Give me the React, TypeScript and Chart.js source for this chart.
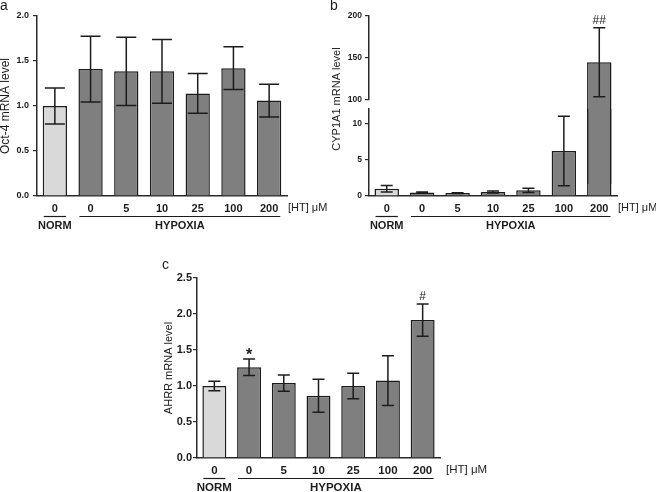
import React, { useEffect, useRef } from 'react';
import { Chart, registerables } from 'chart.js';

Chart.register(...registerables);

// ---------- data ----------
const doseLabels = ['0', '0', '5', '10', '25', '100', '200'];
const conditionOfBar = ['NORM', 'HYPOXIA', 'HYPOXIA', 'HYPOXIA', 'HYPOXIA', 'HYPOXIA', 'HYPOXIA'];
const conditionLabels = ['NORM', 'HYPOXIA'];
const unitLabel = '[HT] μM';

const oct4Mean = [1.0, 1.41, 1.385, 1.385, 1.14, 1.42, 1.06];
const oct4Err = [0.2, 0.365, 0.38, 0.355, 0.22, 0.237, 0.183];
const oct4Ticks = [0, 0.5, 1.0, 1.5, 2.0];

const cypMean = [1.0, 0.5, 0.4, 0.55, 0.78, 6.2, 145];
const cypErr = [0.45, 0.05, 0.04, 0.15, 0.3, 4.8, 41];
const cypLowTicks = [0, 5, 10];
const cypHighTicks = [100, 150, 200];
const cypLowRange = [0, 12];
const cypHighRange = [100, 200];
const cypMarks = ['', '', '', '', '', '', '##'];

const ahrrMean = [1.0, 1.26, 1.04, 0.865, 1.0, 1.075, 1.915];
const ahrrErr = [0.067, 0.115, 0.113, 0.228, 0.178, 0.346, 0.224];
const ahrrTicks = [0, 0.5, 1.0, 1.5, 2.0, 2.5];
const ahrrMarks = ['', '*', '', '', '', '', '#'];

// ---------- styling ----------
const FONT = "'Liberation Sans', Arial, sans-serif";
const INK = '#1c1c1c';
const AXIS = '#2a2a2a';
const NORM_FILL = '#d9d9d9';
const HYP_FILL = '#7f7f7f';

interface Spec {
  values: (number | null)[];
  errors: number[];
  ticks: number[];
  min: number;
  max: number;
  decimals: number;
  yTickSize: number;
  yTickPad: number;
  xTickSize: number;
  yWidth: number;
  padding: { top: number; right: number; bottom: number; left: number };
  xHeight: number;
  showX: boolean;
  barPct: number;
  capWidth: number;
  clipTop: boolean;
  marks?: string[];
  letter?: { text: string; x: number; y: number; size: number };
  title?: { text: string; x: number; y?: number; size: number };
  groups?: boolean;
  unitGap?: number;
}

function buildConfig(s: Spec): any {
  const colors = conditionOfBar.map((c) => (c === 'NORM' ? NORM_FILL : HYP_FILL));
  const annotate = {
    id: 'annotate',
    afterDatasetsDraw(chart: any) {
      const ctx = chart.ctx;
      const a = chart.chartArea;
      const meta = chart.getDatasetMeta(0);
      const y = chart.scales.y;
      ctx.save();
      ctx.beginPath();
      ctx.rect(a.left - 20, a.top - 1, a.right - a.left + 40, a.bottom - a.top + 1);
      ctx.clip();
      ctx.strokeStyle = INK;
      ctx.lineWidth = 1.5;
      s.values.forEach((v, i) => {
        if (v == null) return;
        const e = s.errors[i];
        const x = meta.data[i].x;
        const top = y.getPixelForValue(v + e);
        const bot = y.getPixelForValue(v - e);
        const hw = s.capWidth / 2;
        ctx.beginPath();
        ctx.moveTo(x, top);
        ctx.lineTo(x, bot);
        ctx.moveTo(x - hw, top);
        ctx.lineTo(x + hw, top);
        ctx.moveTo(x - hw, bot);
        ctx.lineTo(x + hw, bot);
        ctx.stroke();
      });
      ctx.restore();
    },
    afterDraw(chart: any) {
      const ctx = chart.ctx;
      const a = chart.chartArea;
      const meta = chart.getDatasetMeta(0);
      const y = chart.scales.y;
      ctx.save();
      ctx.fillStyle = INK;
      if (s.letter) {
        ctx.font = `${s.letter.size}px ${FONT}`;
        ctx.textAlign = 'left';
        ctx.textBaseline = 'alphabetic';
        ctx.fillText(s.letter.text, s.letter.x, s.letter.y);
      }
      if (s.title) {
        ctx.save();
        ctx.translate(s.title.x, s.title.y ?? (a.top + a.bottom) / 2);
        ctx.rotate(-Math.PI / 2);
        ctx.font = `${s.title.size}px ${FONT}`;
        ctx.textAlign = 'center';
        ctx.textBaseline = 'middle';
        ctx.fillText(s.title.text, 0, 0);
        ctx.restore();
      }
      if (s.marks) {
        ctx.textAlign = 'center';
        ctx.textBaseline = 'alphabetic';
        s.marks.forEach((m, i) => {
          const v = s.values[i];
          if (!m || v == null) return;
          const capY = y.getPixelForValue(v + s.errors[i]);
          if (m === '*') {
            ctx.font = `bold 16px ${FONT}`;
            ctx.fillText(m, meta.data[i].x, capY + 1);
          } else {
            ctx.font = `12px ${FONT}`;
            ctx.fillText(m, meta.data[i].x, capY - 4);
          }
        });
      }
      if (s.groups) {
        const fs = s.xTickSize;
        ctx.font = `${fs}px ${FONT}`;
        ctx.textAlign = 'left';
        ctx.textBaseline = 'middle';
        ctx.fillText(unitLabel, a.right + (s.unitGap ?? 1), a.bottom + 12);
        ctx.strokeStyle = INK;
        ctx.lineWidth = 1.2;
        conditionLabels.forEach((label) => {
          const idx = conditionOfBar.map((c, i) => (c === label ? i : -1)).filter((i) => i >= 0);
          const f = meta.data[idx[0]];
          const l = meta.data[idx[idx.length - 1]];
          const x0 = f.x - f.width / 2 + 1;
          const x1 = l.x + l.width / 2 - 1;
          ctx.beginPath();
          ctx.moveTo(x0, a.bottom + 20.5);
          ctx.lineTo(x1, a.bottom + 20.5);
          ctx.stroke();
          ctx.font = `bold ${fs}px ${FONT}`;
          ctx.textAlign = 'center';
          ctx.fillText(label, (x0 + x1) / 2, a.bottom + 29.5);
        });
      }
      ctx.restore();
    },
  };

  return {
    type: 'bar',
    data: {
      labels: doseLabels,
      datasets: [
        {
          data: s.values,
          backgroundColor: colors,
          borderColor: INK,
          borderWidth: 1.5,
          barPercentage: s.barPct,
          categoryPercentage: 1,
          clip: s.clipTop ? { left: false, right: false, top: 0, bottom: false } : false,
        },
      ],
    },
    options: {
      responsive: false,
      maintainAspectRatio: false,
      animation: false,
      events: [],
      layout: { padding: s.padding },
      plugins: { legend: { display: false }, tooltip: { enabled: false }, title: { display: false } },
      scales: {
        x: {
          type: 'category',
          display: s.showX,
          offset: true,
          grid: { display: false, drawTicks: false },
          border: { display: true, color: AXIS, width: 1.5 },
          ticks: {
            font: { family: FONT, weight: 'bold', size: s.xTickSize },
            color: INK,
            padding: 6,
            maxRotation: 0,
            autoSkip: false,
          },
          afterFit: (sc: any) => {
            sc.height = s.xHeight;
          },
        },
        y: {
          type: 'linear',
          min: s.min,
          max: s.max,
          afterBuildTicks: (sc: any) => {
            sc.ticks = s.ticks.map((v) => ({ value: v }));
          },
          afterFit: (sc: any) => {
            sc.width = s.yWidth;
          },
          grid: {
            display: true,
            drawOnChartArea: false,
            drawTicks: true,
            tickLength: 4,
            color: AXIS,
            lineWidth: 1.2,
          },
          border: { display: true, color: AXIS, width: 1.5 },
          ticks: {
            font: { family: FONT, weight: 'bold', size: s.yTickSize },
            color: INK,
            padding: s.yTickPad,
            callback: (v: any) => Number(v).toFixed(s.decimals),
          },
        },
      },
    },
    plugins: [annotate],
  };
}

function Panel({ left, top, width, height, spec }: { left: number; top: number; width: number; height: number; spec: Spec }) {
  const ref = useRef<HTMLCanvasElement>(null);
  useEffect(() => {
    const chart = new Chart(ref.current as HTMLCanvasElement, buildConfig(spec));
    return () => chart.destroy();
  }, []);
  return (
    <canvas
      ref={ref}
      width={width}
      height={height}
      style={{ position: 'absolute', left, top, width, height, display: 'block' }}
    />
  );
}

const specA: Spec = {
  values: oct4Mean,
  errors: oct4Err,
  ticks: oct4Ticks,
  min: 0,
  max: 2,
  decimals: 1,
  yTickSize: 9,
  yTickPad: 4,
  xTickSize: 11,
  yWidth: 37,
  padding: { top: 16, right: 43, bottom: 0, left: 0 },
  xHeight: 49,
  showX: true,
  barPct: 0.68,
  capWidth: 20,
  clipTop: false,
  letter: { text: 'a', x: 0, y: 10, size: 14 },
  title: { text: 'Oct-4 mRNA level', x: 6, size: 12 },
  groups: true,
  unitGap: 1,
};

const specBHigh: Spec = {
  values: cypMean.map((v) => (v >= cypHighRange[0] ? v : null)),
  errors: cypErr,
  ticks: cypHighTicks,
  min: cypHighRange[0],
  max: cypHighRange[1],
  decimals: 0,
  yTickSize: 8.5,
  yTickPad: 3,
  xTickSize: 11,
  yWidth: 39,
  padding: { top: 16, right: 39, bottom: 145, left: 0 },
  xHeight: 0,
  showX: false,
  barPct: 0.69,
  capWidth: 12,
  clipTop: false,
  marks: cypMarks,
  letter: { text: 'b', x: 0, y: 10, size: 14 },
};

const specBLow: Spec = {
  values: cypMean,
  errors: cypErr,
  ticks: cypLowTicks,
  min: cypLowRange[0],
  max: cypLowRange[1],
  decimals: 0,
  yTickSize: 8.5,
  yTickPad: 3,
  xTickSize: 11,
  yWidth: 39,
  padding: { top: 109, right: 39, bottom: 0, left: 0 },
  xHeight: 49,
  showX: true,
  barPct: 0.69,
  capWidth: 12,
  clipTop: true,
  title: { text: 'CYP1A1 mRNA level', x: 7, y: 99, size: 11 },
  groups: true,
  unitGap: 1,
};

const specC: Spec = {
  values: ahrrMean,
  errors: ahrrErr,
  ticks: ahrrTicks,
  min: 0,
  max: 2.5,
  decimals: 1,
  yTickSize: 11,
  yTickPad: 1,
  xTickSize: 11.5,
  yWidth: 47,
  padding: { top: 23, right: 50, bottom: 0, left: 0 },
  xHeight: 34,
  showX: true,
  barPct: 0.69,
  capWidth: 12,
  clipTop: false,
  marks: ahrrMarks,
  letter: { text: 'c', x: 12, y: 13.5, size: 14 },
  title: { text: 'AHRR mRNA level', x: 19, size: 11 },
  groups: true,
  unitGap: 6,
};

export default function App() {
  return (
    <div style={{ position: 'absolute', left: 0, top: 0, width: 656, height: 492, background: '#fff', overflow: 'hidden' }}>
      <Panel left={0} top={0} width={330} height={245} spec={specA} />
      <Panel left={330} top={0} width={326} height={245} spec={specBHigh} />
      <Panel left={330} top={0} width={326} height={245} spec={specBLow} />
      <Panel left={150} top={255} width={340} height={237} spec={specC} />
    </div>
  );
}
